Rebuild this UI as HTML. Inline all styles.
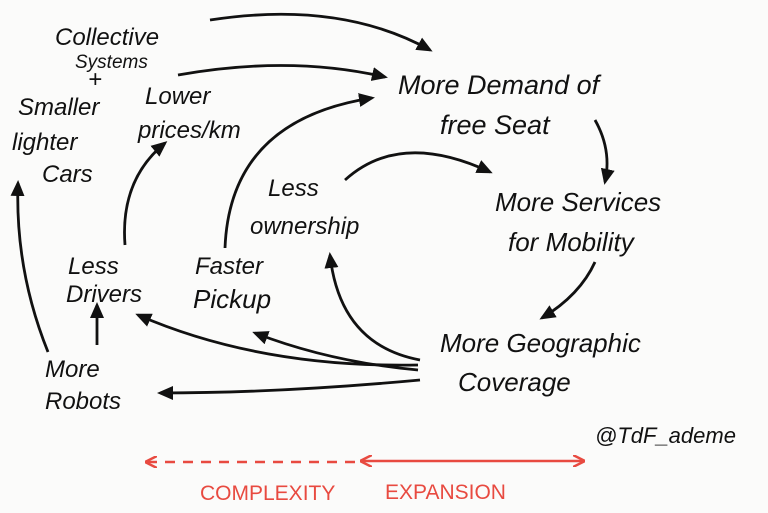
<!DOCTYPE html>
<html><head><meta charset="utf-8"><style>
html,body{margin:0;padding:0;background:#fbfbfa;}
svg{display:block}
text{font-family:"Liberation Sans",sans-serif;font-style:italic;fill:#111;}
</style></head><body>
<svg width="768" height="513" viewBox="0 0 768 513" xmlns="http://www.w3.org/2000/svg">
<defs>
<marker id="a" markerWidth="16" markerHeight="14" refX="13" refY="7" orient="auto" markerUnits="userSpaceOnUse"><path d="M0,0 L16,7 L0,14 z" fill="#111"/></marker>
<marker id="r" markerWidth="12" markerHeight="12" refX="10" refY="6" orient="auto" markerUnits="userSpaceOnUse"><path d="M0,0 L12,6 L0,12" fill="none" stroke="#e84a40" stroke-width="2.5"/></marker>
<marker id="rs" markerWidth="12" markerHeight="12" refX="2" refY="6" orient="auto" markerUnits="userSpaceOnUse"><path d="M12,0 L0,6 L12,12" fill="none" stroke="#e84a40" stroke-width="2.5"/></marker>
</defs>
<g font-size="24">
<text x="55" y="45">Collective</text>
<text x="75" y="68" font-size="19">Systems</text>
<text x="88" y="87">+</text>
<text x="18" y="115">Smaller</text>
<text x="12" y="150">lighter</text>
<text x="42" y="182">Cars</text>
<text x="145" y="104">Lower</text>
<text x="138" y="138">prices/km</text>
<text x="398" y="94" font-size="27">More Demand of</text>
<text x="440" y="134" font-size="27">free Seat</text>
<text x="495" y="211" font-size="26">More Services</text>
<text x="508" y="251" font-size="26">for Mobility</text>
<text x="268" y="196">Less</text>
<text x="250" y="234">ownership</text>
<text x="68" y="274">Less</text>
<text x="66" y="302">Drivers</text>
<text x="195" y="274">Faster</text>
<text x="193" y="308" font-size="26">Pickup</text>
<text x="440" y="352" font-size="26">More Geographic</text>
<text x="458" y="391" font-size="26">Coverage</text>
<text x="45" y="377">More</text>
<text x="45" y="409">Robots</text>
<text x="595" y="443" font-size="22">@TdF_ademe</text>
</g>
<text x="200" y="500" font-size="21" style="fill:#e84a40;font-style:normal">COMPLEXITY</text>
<text x="385" y="499" font-size="21" style="fill:#e84a40;font-style:normal">EXPANSION</text>
<line x1="355" y1="462" x2="147" y2="462" stroke="#e84a40" stroke-width="2.5" stroke-dasharray="10,8" marker-end="url(#r)"/>
<line x1="362" y1="461" x2="583" y2="461" stroke="#e84a40" stroke-width="2.5" marker-start="url(#rs)" marker-end="url(#r)"/>
<g fill="none" stroke="#111" stroke-width="2.8" marker-end="url(#a)">
<path d="M210,20 Q340,0 430,50"/>
<path d="M178,75 Q290,55 385,77"/>
<path d="M225,248 Q230,120 372,98"/>
<path d="M125,245 Q120,180 165,143"/>
<path d="M345,180 Q400,130 490,172"/>
<path d="M595,120 Q612,150 605,182"/>
<path d="M595,262 Q580,295 542,318"/>
<path d="M420,360 Q340,345 330,255"/>
<path d="M418,365 Q260,368 138,315"/>
<path d="M418,370 Q330,362 255,333"/>
<path d="M420,380 Q280,393 160,393"/>
<path d="M97,345 L97,305"/>
<path d="M48,352 Q15,270 18,183"/>
</g>
</svg>
</body></html>
